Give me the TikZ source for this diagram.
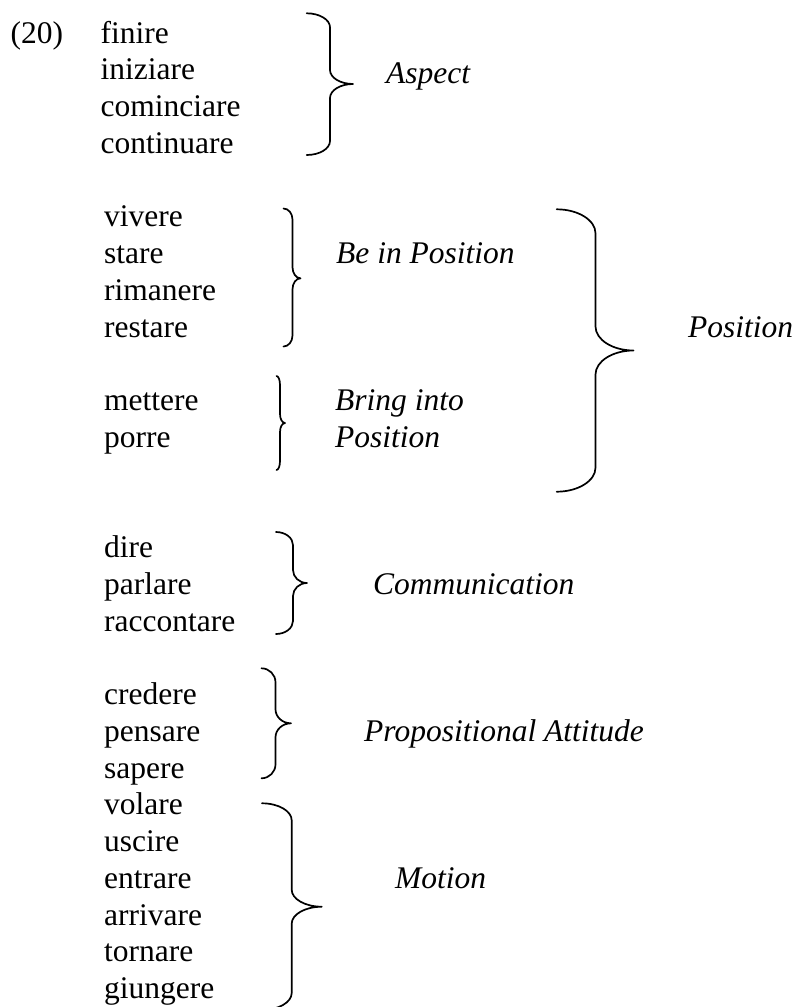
\documentclass[tikz,border=0pt]{standalone}
\usepackage{fontspec}
\setmainfont{Liberation Serif}
\newcommand{\wfont}{\fontsize{31.5pt}{36.75pt}\selectfont}
% right curly brace: xs xv xt ytop ymid ybot r
\newcommand{\curlyb}[7]{%
  \draw[bracestyle] (#1,#4) .. controls ({#1+0.55*(#2-#1)},#4) and (#2,{#4+0.45*#7}) .. (#2,{#4+#7})
    -- (#2,{#5-#7}) .. controls (#2,{#5-0.45*#7}) and ({#2+0.45*(#3-#2)},#5) .. (#3,#5)
    .. controls ({#2+0.45*(#3-#2)},#5) and (#2,{#5+0.45*#7}) .. (#2,{#5+#7})
    -- (#2,{#6-#7}) .. controls (#2,{#6-0.45*#7}) and ({#1+0.55*(#2-#1)},#6) .. (#1,#6);}
\begin{document}
\begin{tikzpicture}[x=1pt,y=-1pt,
  word/.style={anchor=base west, inner sep=0pt, font=\wfont},
  lab/.style={anchor=base west, inner sep=0pt, font=\wfont\itshape},
  bracestyle/.style={draw=black, line width=1.7pt, line join=round, line cap=round}]
\useasboundingbox (0,0) rectangle (795,1007);
\fill[white] (0,0) rectangle (795,1007);

\node[word] (num) at (10.5,43) {(20)};
% Aspect
\node[word] (w1) at (100.5,43) {finire};
\node[word] (w2) at (100.5,79.75) {iniziare};
\node[word] (w3) at (100.5,116.5) {cominciare};
\node[word] (w4) at (100.5,153.25) {continuare};
\curlyb{306.7}{330}{353}{13.3}{84}{155}{14}
\node[lab] (aspect) at (386,83) {Aspect};
% Be in Position
\node[word] (w5) at (104,226.75) {vivere};
\node[word] (w6) at (104,263.5) {stare};
\node[word] (w7) at (104,300.25) {rimanere};
\node[word] (w8) at (104,337) {restare};
\curlyb{283.5}{292.5}{300.5}{208.5}{278.3}{346.5}{11}
\node[lab] (bip) at (336,263.5) {Be in Position};
% Bring into Position
\node[word] (w9) at (104,410.5) {mettere};
\node[word] (w10) at (104,447.25) {porre};
\curlyb{276.5}{280}{285}{376}{423}{470}{9}
\node[lab] (bring1) at (335,410.5) {Bring into};
\node[lab] (bring2) at (335,447.25) {Position};
% Position
\curlyb{556.7}{595.5}{633.5}{209.3}{350.5}{491.7}{24}
\node[lab] (pos) at (688,337) {Position};
% Communication
\node[word] (w11) at (104,557.5) {dire};
\node[word] (w12) at (104,594.25) {parlare};
\node[word] (w13) at (104,631) {raccontare};
\curlyb{276}{293}{307}{532}{583}{634}{13}
\node[lab] (comm) at (373,594.25) {Communication};
% Propositional Attitude
\node[word] (w14) at (104,704.5) {credere};
\node[word] (w15) at (104,741.25) {pensare};
\node[word] (w16) at (104,778) {sapere};
\curlyb{261.5}{275.5}{291}{668.3}{723.3}{778.3}{14}
\node[lab] (prop) at (364,741.25) {Propositional Attitude};
% Motion
\node[word] (w17) at (104,814.75) {volare};
\node[word] (w18) at (104,851.5) {uscire};
\node[word] (w19) at (104,888.25) {entrare};
\node[word] (w20) at (104,925) {arrivare};
\node[word] (w21) at (104,961.75) {tornare};
\node[word] (w22) at (104,998.5) {giungere};
\curlyb{262}{291.7}{321.7}{803.3}{906.7}{1010}{17}
\node[lab] (motion) at (395,888.25) {Motion};
\end{tikzpicture}
\end{document}
